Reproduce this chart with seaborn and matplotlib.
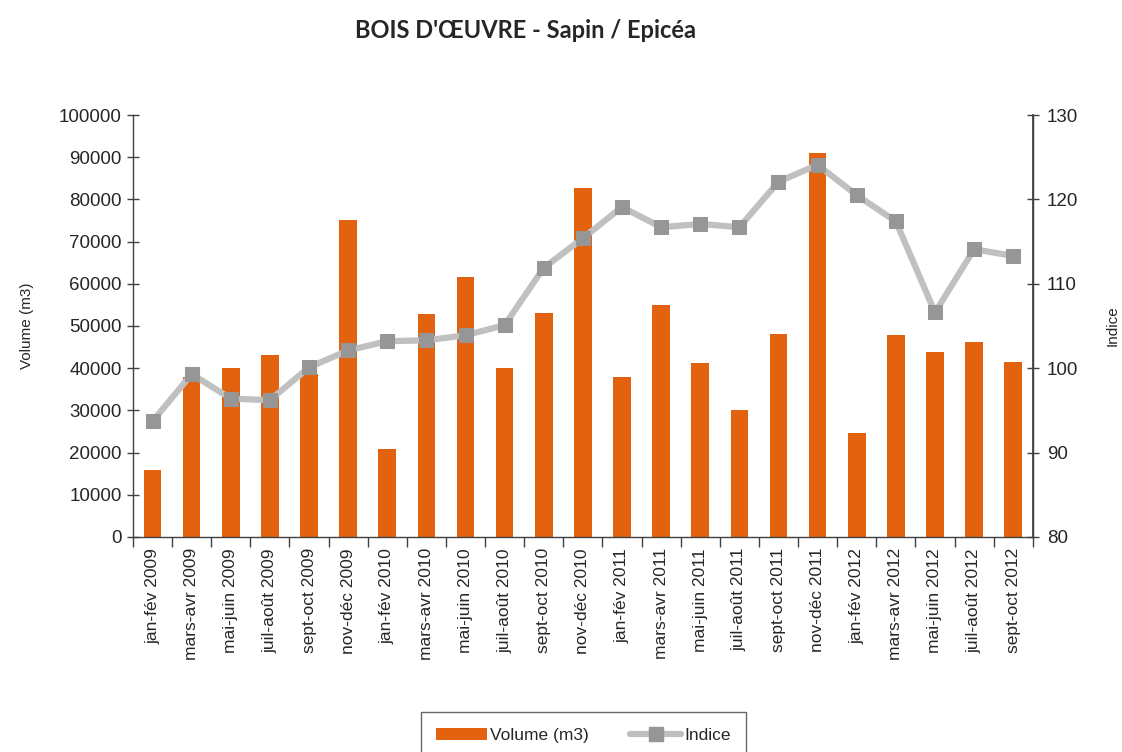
import numpy as np
import pandas as pd
import matplotlib
matplotlib.use("Agg")
import matplotlib.pyplot as plt
import seaborn as sns
from matplotlib.lines import Line2D
from matplotlib.patches import Patch

periods = ["jan-fév 2009", "mars-avr 2009", "mai-juin 2009", "juil-août 2009", "sept-oct 2009",
           "nov-déc 2009", "jan-fév 2010", "mars-avr 2010", "mai-juin 2010", "juil-août 2010",
           "sept-oct 2010", "nov-déc 2010", "jan-fév 2011", "mars-avr 2011", "mai-juin 2011",
           "juil-août 2011", "sept-oct 2011", "nov-déc 2011", "jan-fév 2012", "mars-avr 2012",
           "mai-juin 2012", "juil-août 2012", "sept-oct 2012"]
volume = [15900, 38000, 40000, 43100, 38600, 75100, 20800, 52800, 61700, 40000, 53000, 82800,
          37800, 55000, 41200, 30100, 48200, 90900, 24700, 47900, 43900, 46200, 41500]
indice = [93.7, 99.3, 96.4, 96.2, 100.1, 102.1, 103.2, 103.3, 103.9, 105.1, 111.9, 115.4,
          119.1, 116.7, 117.1, 116.7, 122.1, 124.1, 120.5, 117.4, 106.6, 114.1, 113.3]

df = pd.DataFrame({"periode": periods, "volume": volume, "indice": indice})

sns.set_theme(style="white")
plt.rcParams['font.family'] = ['Liberation Sans', 'DejaVu Sans']

bar_color = "#E36210"
line_color = "#C0C0C0"
marker_color = "#969696"
axis_color = "#404040"

fig = plt.figure(figsize=(11.22, 7.52), dpi=100)
ax = fig.add_axes([0.1185, 0.286, 0.802, 0.561])

sns.barplot(data=df, x="periode", y="volume", color=bar_color, width=0.45,
            saturation=1, ax=ax, edgecolor="none")
ax.set_ylim(0, 100000)
ax.set_xlim(-0.5, len(periods) - 0.5)
ax.set_yticks(np.arange(0, 100001, 10000))
ax.set_yticklabels([str(v) for v in range(0, 100001, 10000)], fontsize=13.5)
ax.set_xticks(np.arange(len(periods)))
ax.set_xticklabels(periods, rotation=90, fontsize=12.5)
ax.tick_params(axis="x", which="major", bottom=False, length=0, pad=8)
ax.tick_params(axis="y", left=True, direction="inout", length=8, width=1, color=axis_color, pad=4)
ax.set_xlabel("")
ax.set_ylabel("Volume (m3)", fontsize=11, labelpad=18)

# category separator ticks on x axis
ax.set_xticks(np.arange(-0.5, len(periods) + 0.5, 1), minor=True)
ax.tick_params(axis="x", which="minor", bottom=True, direction="out", length=7, width=1,
               color=axis_color)

for side in ["left", "bottom", "right"]:
    ax.spines[side].set_visible(True)
    ax.spines[side].set_color(axis_color)
    ax.spines[side].set_linewidth(1)
ax.spines["top"].set_visible(False)

ax2 = ax.twinx()
sns.lineplot(data=df, x="periode", y="indice", ax=ax2, color=line_color, linewidth=4.5,
             marker="s", markersize=10, markerfacecolor=marker_color,
             markeredgecolor=marker_color, sort=False)
ax2.set_ylim(80, 130)
ax2.set_yticks(np.arange(80, 131, 10))
ax2.set_yticklabels([str(v) for v in range(80, 131, 10)], fontsize=13.5)
ax2.tick_params(axis="y", right=True, direction="inout", length=8, width=1, color=axis_color, pad=6)
ax2.set_ylabel("Indice", fontsize=11, labelpad=20)
ax2.set_xlabel("")
ax2.spines["top"].set_visible(False)
ax2.spines["right"].set_color(axis_color)
ax2.spines["left"].set_visible(False)
ax2.spines["bottom"].set_visible(False)
ax2.set_xlim(-0.5, len(periods) - 0.5)

fig.suptitle("BOIS D'ŒUVRE - Sapin / Epicéa", x=0.468, y=0.975, fontsize=17,
             fontweight="bold", family=["Lato", "DejaVu Sans"])

handles = [Patch(facecolor=bar_color, edgecolor="none"),
           Line2D([0], [0], color=line_color, linewidth=4.5, marker="s", markersize=10,
                  markerfacecolor=marker_color, markeredgecolor=marker_color)]
leg = fig.legend(handles, ["Volume (m3)", "Indice"], loc="lower center",
                 bbox_to_anchor=(0.52, -0.02), ncol=2, frameon=True, fancybox=False,
                 fontsize=12.5, handlelength=2.9, columnspacing=2.4, borderpad=0.9,
                 handletextpad=0.2)
leg.get_frame().set_edgecolor(axis_color)
leg.get_frame().set_linewidth(1)

fig.savefig("out.png", dpi=100)
